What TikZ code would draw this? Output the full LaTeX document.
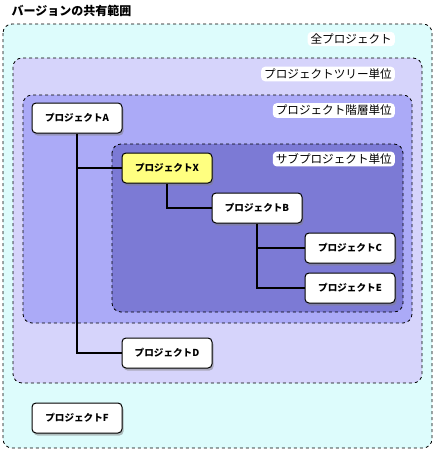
\documentclass[tikz,border=0pt]{standalone}
\usepackage{fontspec}
\setmainfont{Noto Sans CJK JP}
\usetikzlibrary{shadows}
\definecolor{allfill}{HTML}{DDFCFC}
\definecolor{treefill}{HTML}{D6D4FB}
\definecolor{hierfill}{HTML}{ABAAF7}
\definecolor{subfill}{HTML}{7C7AD5}
\definecolor{xfill}{HTML}{FFFF80}
\begin{document}
\begin{tikzpicture}[x=1pt,y=-1pt,
  region/.style={draw=black, dashed, line width=0.8pt, rounded corners=9pt},
  regionlabel/.style={fill=white, rounded corners=4pt, inner xsep=3pt, inner ysep=2pt, font=\fontsize{11.6}{13}\selectfont, anchor=east},
  proj/.style={draw=black, line width=1pt, fill=white, rounded corners=4pt, minimum width=90pt, minimum height=30pt, inner sep=0pt, font=\bfseries\fontsize{9.6}{11}\selectfont, drop shadow={shadow xshift=1.5pt, shadow yshift=-2.5pt, opacity=0.5}},
  link/.style={draw=black, line width=1.5pt}]
\useasboundingbox (0,0) rectangle (434,450);
\node[anchor=west, font=\bfseries\fontsize{12}{14}\selectfont] (title) at (8,11) {バージョンの共有範囲};
\draw[region, fill=allfill] (3,24) rectangle (432,448);
\draw[region, fill=treefill] (13,58) rectangle (422,383);
\draw[region, fill=hierfill] (23,95) rectangle (412,323);
\draw[region, fill=subfill] (112,144) rectangle (403,312);
\node[regionlabel] (lall) at (395,39) {全プロジェクト};
\node[regionlabel] (ltree) at (395,74) {プロジェクトツリー単位};
\node[regionlabel] (lhier) at (395,110.5) {プロジェクト階層単位};
\node[regionlabel] (lsub) at (395,159) {サブプロジェクト単位};
\node[proj] (A) at (77,118) {プロジェクトA};
\node[proj, fill=xfill] (X) at (167,168) {プロジェクトX};
\node[proj] (B) at (257,208) {プロジェクトB};
\node[proj] (C) at (350,248) {プロジェクトC};
\node[proj] (E) at (350,288) {プロジェクトE};
\node[proj] (D) at (167,353) {プロジェクトD};
\node[proj] (F) at (77,418) {プロジェクトF};
\draw[link] (A.south) |- (D.west);
\draw[link] (A.south |- X.west) -- (X.west);
\draw[link] (X.south) |- (B.west);
\draw[link] (B.south) |- (E.west);
\draw[link] (B.south |- C.west) -- (C.west);
\end{tikzpicture}
\end{document}
